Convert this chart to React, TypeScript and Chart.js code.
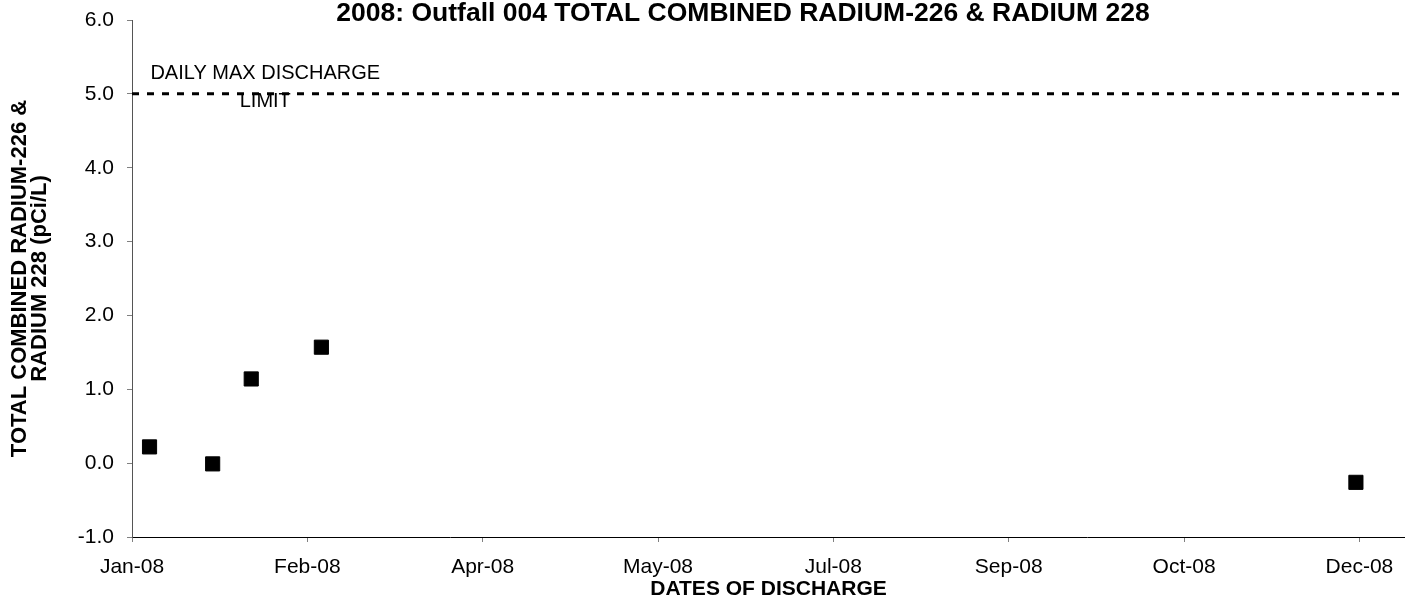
import React, { useEffect, useRef } from "react";
import { Chart, registerables } from "chart.js";

Chart.register(...registerables);

const FONT = '"Liberation Sans", Arial, Helvetica, sans-serif';

const chartTitle = "2008: Outfall 004 TOTAL COMBINED RADIUM-226 & RADIUM 228";
const yAxisTitle = ["TOTAL COMBINED RADIUM-226 &", "RADIUM 228 (pCi/L)"];
const xAxisTitle = "DATES OF DISCHARGE";
const limitLabel = ["DAILY MAX DISCHARGE", "LIMIT"];

const axisStartDate = "2008-01-01";
const sampleDates = ["2008-01-06", "2008-01-24", "2008-02-04", "2008-02-24", "2008-12-15"];
const sampleValues = [0.22, -0.01, 1.14, 1.57, -0.26];
const limitValue = 5.0;
const limitLabelDay = 38;

const xTickDays = [0, 50, 100, 150, 200, 250, 300, 350];
const xTickLabels = ["Jan-08", "Feb-08", "Apr-08", "May-08", "Jul-08", "Sep-08", "Oct-08", "Dec-08"];
const xMinDay = 0;
const xMaxDay = 363;
const yTicks = [-1, 0, 1, 2, 3, 4, 5, 6];
const yMin = -1;
const yMax = 6;

const dayOf = (d: string) => (Date.parse(d) - Date.parse(axisStartDate)) / 86400000;

const overlayPlugin = {
  id: "overlayText",
  afterDatasetsDraw(chart: any) {
    const { ctx, scales } = chart;
    const x = scales.x;
    const y = scales.y;
    ctx.save();
    ctx.fillStyle = "#000";
    ctx.textAlign = "center";
    ctx.textBaseline = "middle";
    ctx.font = `20px ${FONT}`;
    const cx = x.getPixelForValue(limitLabelDay);
    const ly = y.getPixelForValue(limitValue);
    ctx.fillText(limitLabel[0], cx, ly - 20);
    ctx.fillText(limitLabel[1], cx, ly + 8);
    ctx.font = `bold 26.5px ${FONT}`;
    ctx.fillText(chartTitle, 743, 14);
    ctx.restore();
  },
};

export default function App() {
  const ref = useRef<HTMLCanvasElement | null>(null);

  useEffect(() => {
    if (!ref.current) return;
    Chart.defaults.font.family = FONT;
    Chart.defaults.color = "#000";

    const points = sampleDates.map((d, i) => ({ x: dayOf(d), y: sampleValues[i] }));

    const chart = new Chart(ref.current, {
      type: "scatter",
      data: {
        datasets: [
          {
            type: "line",
            label: "limit",
            data: [
              { x: xMinDay, y: limitValue },
              { x: xMaxDay - 1.5, y: limitValue },
            ],
            borderColor: "#000",
            borderWidth: 3,
            borderDash: [7, 8],
            borderCapStyle: "butt",
            pointRadius: 0,
            fill: false,
          } as any,
          {
            label: "samples",
            data: points,
            pointStyle: "rect",
            pointRadius: 10,
            pointHoverRadius: 10,
            backgroundColor: "#000",
            borderColor: "#000",
            borderWidth: 1,
            showLine: false,
          },
        ],
      },
      options: {
        animation: false,
        responsive: false,
        events: [],
        layout: { autoPadding: false, padding: { top: 20, left: 0, right: 0, bottom: 0 } },
        plugins: {
          legend: { display: false },
          tooltip: { enabled: false },
          title: { display: false },
        },
        scales: {
          x: {
            type: "linear",
            min: xMinDay,
            max: xMaxDay,
            afterBuildTicks: (s: any) => {
              s.ticks = xTickDays.map((v) => ({ value: v }));
            },
            afterFit: (s: any) => {
              s.height = 63;
              s.paddingLeft = 0;
              s.paddingRight = 0;
            },
            ticks: {
              autoSkip: false,
              maxRotation: 0,
              padding: 13,
              font: { size: 21 },
              color: "#000",
              callback: (v: any) => {
                const i = xTickDays.indexOf(Number(v));
                return i >= 0 ? xTickLabels[i] : "";
              },
            },
            grid: {
              drawOnChartArea: false,
              drawTicks: true,
              tickLength: 5,
              color: "#808080",
            },
            border: { color: "#000", width: 1 },
            title: {
              display: true,
              text: xAxisTitle,
              font: { size: 21, weight: "bold" },
              color: "#000",
              padding: { top: 0, bottom: -2 },
            },
          },
          y: {
            type: "linear",
            min: yMin,
            max: yMax,
            afterBuildTicks: (s: any) => {
              s.ticks = yTicks.map((v) => ({ value: v }));
            },
            afterFit: (s: any) => {
              s.width = 132;
              s.paddingTop = 0;
              s.paddingBottom = 0;
            },
            ticks: {
              padding: 13,
              font: { size: 21 },
              color: "#000",
              callback: (v: any) => Number(v).toFixed(1),
            },
            grid: {
              drawOnChartArea: false,
              drawTicks: true,
              tickLength: 5,
              color: "#808080",
            },
            border: { color: "#555", width: 1 },
            title: {
              display: true,
              text: yAxisTitle,
              font: { size: 22, weight: "bold", lineHeight: 0.91 },
              color: "#000",
              padding: { top: 10, bottom: 0 },
            },
          },
        },
      },
      plugins: [overlayPlugin],
    } as any);

    return () => chart.destroy();
  }, []);

  return (
    <div style={{ position: "absolute", left: 0, top: 0, width: 1405, height: 600, background: "#fff" }}>
      <canvas ref={ref} width={1405} height={600} style={{ display: "block", width: 1405, height: 600 }} />
    </div>
  );
}
